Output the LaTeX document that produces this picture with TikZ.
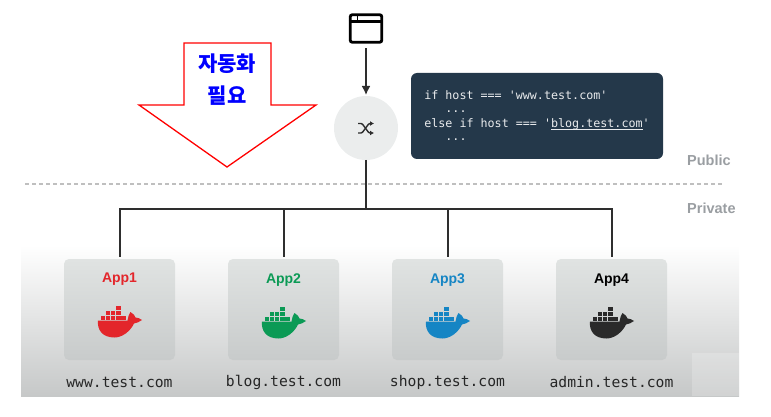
\documentclass[tikz,border=0pt]{standalone}
\usepackage{fontspec}
\usepackage{tikz}
\usepackage{xcolor}
\usetikzlibrary{arrows,arrows.meta,positioning,calc}
\setmainfont{Liberation Sans}
\setmonofont{DejaVu Sans Mono}
\newfontfamily\krfont{Noto Sans CJK KR}
\definecolor{codebg}{HTML}{24384A}
\definecolor{circbg}{HTML}{EBEDED}
\definecolor{wire}{HTML}{2E2E2E}
\definecolor{sidegray}{HTML}{9A9EA2}
\definecolor{appred}{HTML}{E3262B}
\definecolor{appgreen}{HTML}{0B9A55}
\definecolor{appblue}{HTML}{1585C4}
\definecolor{appblack}{HTML}{2A2A2A}
\definecolor{bandlow}{HTML}{C6C8C8}
\definecolor{boxtop}{HTML}{E0E3E2}
\definecolor{boxlow}{HTML}{C8CBCB}

\begin{document}
\begin{tikzpicture}[x=1pt,y=-1pt,
app/.style={rectangle,rounded corners=5pt,minimum width=111pt,minimum height=101pt,inner sep=0pt,outer sep=0pt,top color=boxtop,bottom color=boxlow},
applabel/.style={font=\fontsize{14}{16}\selectfont\bfseries,inner sep=0pt},
site/.style={font=\ttfamily\fontsize{14.7}{16}\selectfont,text=black!85,inner sep=0pt},
side/.style={font=\fontsize{14.5}{16}\selectfont\bfseries,text=sidegray,inner sep=0pt,anchor=west},
kor/.style={font=\krfont\fontsize{21}{23}\selectfont\bfseries,text=blue,inner sep=0pt},
wireline/.style={draw=wire,line width=2pt},
whale/.pic={
  \fill (-21.5,-1.5) -- (8,-1.5) .. controls (8.5,-5) and (9.5,-8) .. (11,-10)
    .. controls (14,-8.5) and (15.5,-6) .. (16,-4.5)
    .. controls (18,-4.5) and (20.5,-3.5) .. (22.5,-2)
    .. controls (20,0) and (17,1) .. (14.5,1.5)
    .. controls (11,9) and (3,15.5) .. (-5,15.5)
    .. controls (-17,15.5) and (-22.5,8) .. (-21.5,-1.5) -- cycle;
  \foreach \cx in {-19,-13.8,-8.6,-3.4,1.8} \fill (\cx,-6.2) rectangle +(4.4,4.2);
  \foreach \cx in {-13.8,-8.6,-3.4} \fill (\cx,-11) rectangle +(4.4,4.2);
  \fill (-3.4,-15.8) rectangle +(4.4,4.2);
}]
\useasboundingbox (0,0) rectangle (771,417);

% lower band
\shade[top color=white,bottom color=bandlow] (21,245) rectangle (739,396);
\fill[white,opacity=0.2] (692,353) rectangle (739,396);

% apps
\node[app] (app1) at (119.5,309.5) {};
\node[app,right=53pt of app1] (app2) {};
\node[app,right=53pt of app2] (app3) {};
\node[app,right=53pt of app3] (app4) {};

\node[applabel,text=appred,below=13.5pt of app1.north] (label1) {App1};
\node[applabel,text=appgreen,below=15pt of app2.north] (label2) {App2};
\node[applabel,text=appblue,below=15pt of app3.north] (label3) {App3};
\node[applabel,text=black,below=15pt of app4.north] (label4) {App4};

\pic[appred] at (119.5,322) {whale};
\pic[appgreen] at (283.5,323) {whale};
\pic[appblue] at (447.5,323) {whale};
\pic[appblack] at (611.5,323) {whale};

\node[site] (dom1) at (119.5,382) {www.test.com};
\node[site] (dom2) at (283.5,382) {blog.test.com};
\node[site] (dom3) at (447.5,382) {shop.test.com};
\node[site] (dom4) at (611.5,382) {admin.test.com};

% load balancer
\node[circle,fill=circbg,minimum size=64pt,inner sep=0pt,outer sep=0pt] (lb) at (366,128) {};
\node[draw=black,line width=2.8pt,rounded corners=2pt,minimum width=31.5pt,minimum height=27.5pt,inner sep=0pt] (browser) at (366,28.5) {};
\draw[line width=2.6pt] (browser.west |- 0,21.5) -- (browser.east |- 0,21.5);
\draw[line width=1.6pt] (357.5,15) -- (357.5,21);
\draw [-{Latex[length=9pt,width=9pt]},wire,line width=1.6pt,shorten >=1pt,shorten <=4.5pt] (browser) -- (lb);
\draw [wire,line width=1.4pt,-{Latex[length=4pt,width=5pt]},rounded corners=1pt] (358,123.5) -- (362,123.5) -- (369,133) -- (374,133);
\draw [wire,line width=1.4pt,-{Latex[length=4pt,width=5pt]},rounded corners=1pt] (358,133) -- (362,133) -- (369,123.5) -- (374,123.5);

% code
\node[fill=codebg,rounded corners=6pt,minimum width=252pt,minimum height=86pt,inner sep=0pt,text=white!90!codebg,font=\ttfamily\fontsize{11.7}{16}\selectfont,align=left] (code) at (537,116) {if host === 'www.test.com'\\[-3pt]
\phantom{xxx}...\\[-1pt]
else if host === '\underline{\smash{blog.test.com}}'\\[-3pt]
\phantom{xxx}...};

% public / private
\coordinate (lineleft) at (25,184);
\coordinate (lineright) at (723,184);
\draw[gray!50,line width=1.1pt,dash pattern=on 4pt off 3pt] (lineleft) -- (lineright);
\node[side] (public) at (687,160) {Public};
\node[side] (private) at (687,208) {Private};

% wires
\coordinate (bus) at (lb.south |- 0,209);
\draw[wireline] (lb) -- (bus);
\draw[wireline,shorten >=2pt] (bus) -| (app1);
\draw[wireline,shorten >=2pt] (bus) -| (app2);
\draw[wireline,shorten >=2pt] (bus) -| (app3);
\draw[wireline,shorten >=2pt] (bus) -| (app4);

% arrow
\draw[red,line width=1.3pt] (184,43) -- (271,43) -- (271,105) -- (316,105) -- (227,167) -- (139,105) -- (184,105) -- cycle;
\node[kor] (word1) at (227,64) {자동화};
\node[kor] (word2) at (227,96) {필요};
\end{tikzpicture}
\end{document}
